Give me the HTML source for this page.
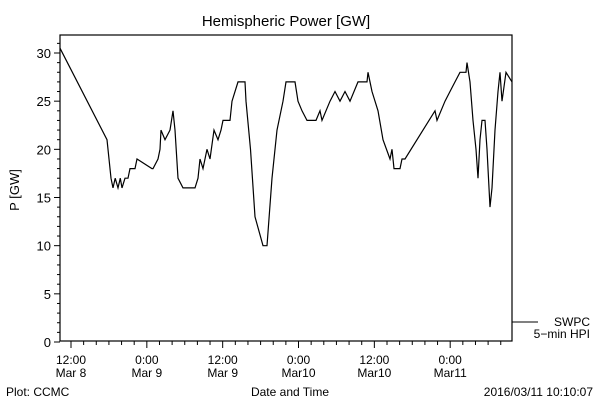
<!DOCTYPE html>
<html><head><meta charset="utf-8"><style>
body{margin:0;background:#fff}
svg{display:block;font-family:"Liberation Sans",sans-serif}
text{fill:#000}
</style></head><body>
<svg id="c" width="600" height="400" viewBox="0 0 600 400">
<text x="286" y="26" font-size="15" text-anchor="middle">Hemispheric Power [GW]</text>
<text x="0" y="0" font-size="13" text-anchor="middle" transform="translate(19,190) rotate(-90)">P [GW]</text>
<text x="290" y="396" font-size="12" text-anchor="middle">Date and Time</text>
<text x="6" y="396" font-size="12">Plot: CCMC</text>
<text x="593" y="396" font-size="12" text-anchor="end">2016/03/11 10:10:07</text>
<rect x="60" y="35" width="452" height="306" fill="none" stroke="#000" stroke-width="1.2"/>
<g id="axes"></g>
<polyline id="series" fill="none" stroke="#000" stroke-width="1.2"/>
<line x1="512" y1="322" x2="538" y2="322" stroke="#000"/>
<text x="590" y="326" font-size="12" text-anchor="end">SWPC</text>
<text x="590" y="338" font-size="12" text-anchor="end">5−min HPI</text>
</svg>
<script>
const hours=[-1.74,5.70,6.33,6.65,7.0,7.44,7.8,8.07,8.54,9.02,9.34,10.13,10.44,12.82,12.97,13.77,14.08,14.24,14.87,15.66,16.14,16.46,16.93,17.72,19.62,20.09,20.41,20.89,21.52,21.99,22.63,23.26,23.73,24.05,25.16,25.47,26.42,27.53,27.69,28.4,29.11,30.38,31.01,31.80,32.59,33.54,34.02,35.44,35.92,36.55,37.34,38.77,39.40,39.72,40.98,41.77,42.56,43.35,44.15,45.41,46.84,46.99,47.63,48.58,49.37,50.47,50.79,51.11,52.06,52.37,52.85,57.59,57.91,59.18,59.97,60.76,61.55,62.50,62.66,63.13,63.61,64.08,64.40,64.72,65.03,65.51,65.82,66.30,66.61,67.09,67.56,67.88,68.20,68.83,69.78];
const values=[30.5,21,17,16,17,16,17,16,17,17,18,18,19,18,18,19,20,22,21,22,24,22,17,16,16,17,19,18,20,19,22,21,22,23,23,25,27,27,25,20,13,10,10,17,22,25,27,27,25,24,23,23,24,23,25,26,25,26,25,27,27,28,26,24,21,19,20,18,18,19,19,24,23,25,26,27,28,28,29,27,23,20,17,21,23,23,20,14,16,22,26,28,25,28,27];
const yTicks=[0,5,10,15,20,25,30];
const xTickHours=[0,12,24,36,48,60];
const xTickLabels=[["12:00","Mar 8"],["0:00","Mar 9"],["12:00","Mar 9"],["0:00","Mar10"],["12:00","Mar10"],["0:00","Mar11"]];
const X0=60,X1=512,Y0=342,Y1=53;
const hMin=-1.74,hMax=69.78;
function xs(h){return X0+(h-hMin)/(hMax-hMin)*(X1-X0);}
function ys(v){return Y0+(v-0)/(30-0)*(Y1-Y0);}
const NS="http://www.w3.org/2000/svg";
const g=document.getElementById('axes');
function ln(x1,y1,x2,y2,name){const l=document.createElementNS(NS,'line');l.setAttribute('x1',x1);l.setAttribute('y1',y1);l.setAttribute('x2',x2);l.setAttribute('y2',y2);l.setAttribute('stroke','#000');


g.appendChild(l);}
function tx(x,y,s,name){const t=document.createElementNS(NS,'text');t.setAttribute('x',x);t.setAttribute('y',y);t.setAttribute('font-size','12');t.setAttribute('text-anchor','middle');t.textContent=s;


g.appendChild(t);}
for(let v=0;v<=31;v++){const y=ys(v);const major=v%5===0;ln(major?54:57,y,60,y,major?'y-major-tick':'y-minor-tick');}
yTicks.forEach(v=>{const t=document.createElementNS(NS,'text');t.setAttribute('x',51);t.setAttribute('y',ys(v)+5);t.setAttribute('font-size','13');t.setAttribute('text-anchor','end');t.textContent=v;


g.appendChild(t);});
for(let h=0;h<=hMax;h+=2){const x=xs(h);const major=h%12===0;ln(x,341,x,major?348:345,major?'x-major-tick':'x-minor-tick');}
xTickHours.forEach((h,i)=>{tx(xs(h),364,xTickLabels[i][0],'x-tick-time');tx(xs(h),377,xTickLabels[i][1],'x-tick-date');});
document.getElementById('series').setAttribute('points',hours.map((h,i)=>xs(h).toFixed(1)+','+ys(values[i]).toFixed(1)).join(' '));
</script>
</body></html>
